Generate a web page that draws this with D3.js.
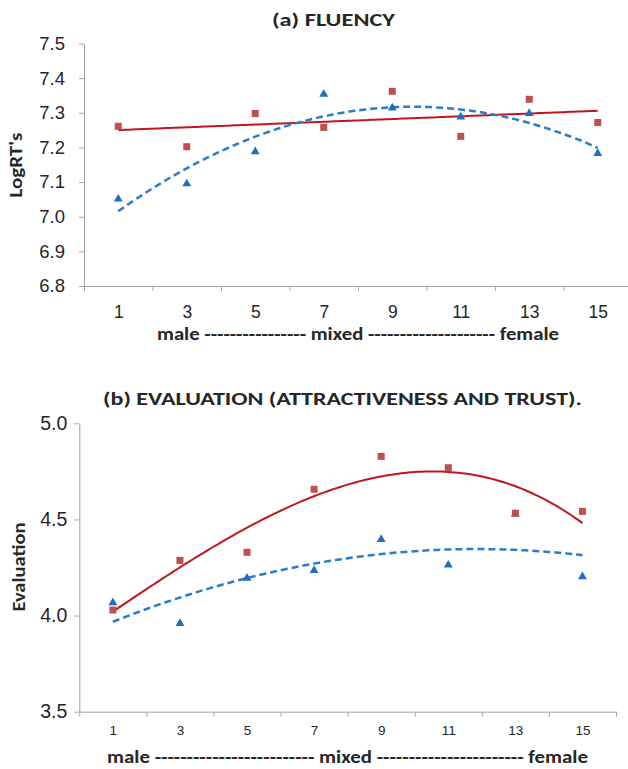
<!DOCTYPE html>
<html>
<head>
<meta charset="utf-8">
<script src="https://cdn.jsdelivr.net/npm/d3@7"></script>
<style>
  body { margin: 0; background: #fff; }
  svg { display: block; font-family: Carlito, Calibri, 'Open Sans', sans-serif; }
  .axis path, .axis line { stroke: #a6a6a6; }
  .axis text { fill: #262626; }
</style>
</head>
<body>
<div id="chart"></div>
<script>
// positions on the male -> female continuum
var xValues = [1, 3, 5, 7, 9, 11, 13, 15];
var boundaryTicks = [0, 2, 4, 6, 8, 10, 12, 14, 16];

// (a) fluency, log reaction times
var fluencyRed = [7.261, 7.202, 7.298, 7.258, 7.362, 7.232, 7.339, 7.272];
var fluencyBlue = [7.051, 7.095, 7.188, 7.354, 7.314, 7.288, 7.298, 7.183];
var fluencyTicks = [6.8, 6.9, 7.0, 7.1, 7.2, 7.3, 7.4, 7.5];

// (b) evaluation (attractiveness and trust)
var evalRed = [4.029, 4.287, 4.329, 4.657, 4.828, 4.769, 4.532, 4.542];
var evalBlue = [4.067, 3.959, 4.195, 4.235, 4.396, 4.263, 4.529, 4.202];
var evalTicks = [3.5, 4.0, 4.5, 5.0];

var red = '#c0504d', redLine = '#c0171f';
var blue = '#1f6fbf', blueLine = '#2a7dcb';

var svg = d3.select('#chart')
  .append('svg')
    .attr('width', 628)
    .attr('height', 769);

// least squares polynomial fit (excel style trendline)
function polyfit (xs, ys, order) {
  var n = order + 1;
  var A = [], b = [];
  for (var i = 0; i < n; i++) {
    A.push([]);
    for (var j = 0; j < n; j++) A[i].push(d3.sum(xs, x => Math.pow(x, i + j)));
    b.push(d3.sum(xs, (x, k) => ys[k] * Math.pow(x, i)));
  }
  // gaussian elimination
  for (var c = 0; c < n; c++) {
    for (var r = c + 1; r < n; r++) {
      var f = A[r][c] / A[c][c];
      for (var k = c; k < n; k++) A[r][k] -= f * A[c][k];
      b[r] -= f * b[c];
    }
  }
  var coef = new Array(n).fill(0);
  for (var r = n - 1; r >= 0; r--) {
    var s = b[r];
    for (var k = r + 1; k < n; k++) s -= A[r][k] * coef[k];
    coef[r] = s / A[r][r];
  }
  return x => coef.reduce((acc, cf, p) => acc + cf * Math.pow(x, p), 0);
}

function drawPanel (opt) {
  var x = d3.scaleLinear().domain([0, 16]).range([opt.left, opt.right]);
  var y = d3.scaleLinear().domain(d3.extent(opt.yTicks)).range([opt.bottom, opt.top]);
  var g = svg.append('g');

  // y axis
  g.append('g')
      .attr('class', 'axis')
      .attr('transform', `translate(${opt.left}, 0)`)
    .call(d3.axisLeft(y).tickValues(opt.yTicks).tickFormat(d3.format('.1f'))
      .tickSize(5).tickSizeOuter(0).tickPadding(opt.yPad))
    .selectAll('text')
      .style('font-size', opt.yFont + 'px');

  // x axis: ticks between categories
  g.append('g')
      .attr('class', 'axis')
      .attr('transform', `translate(0, ${opt.bottom})`)
    .call(d3.axisBottom(x).tickValues(boundaryTicks).tickFormat('')
      .tickSize(5).tickSizeOuter(0));

  // category labels
  var lab = g.append('g')
      .attr('class', 'axis')
      .attr('transform', `translate(0, ${opt.bottom})`)
    .call(d3.axisBottom(x).tickValues(xValues).tickFormat(d3.format('d'))
      .tickSize(0).tickPadding(opt.xPad));
  lab.select('.domain').remove();
  lab.selectAll('text').style('font-size', opt.xFont + 'px');

  // trendlines
  var curve = d3.range(1, 15.01, 0.1);
  var line = d3.line().x(d => x(d[0])).y(d => y(d[1]));
  var fitRed = polyfit(xValues, opt.red, opt.redOrder);
  var fitBlue = polyfit(xValues, opt.blue, opt.blueOrder);

  g.append('path')
      .attr('d', line(curve.map(v => [v, fitRed(v)])))
      .attr('fill', 'none')
      .attr('stroke', redLine)
      .attr('stroke-width', 2);

  g.append('path')
      .attr('d', line(curve.map(v => [v, fitBlue(v)])))
      .attr('fill', 'none')
      .attr('stroke', blueLine)
      .attr('stroke-width', 2.5)
      .attr('stroke-dasharray', '7,4');

  // markers
  g.selectAll('.tri')
    .data(opt.blue)
    .enter().append('path')
      .attr('class', 'tri')
      .attr('d', d3.symbol().type(d3.symbolTriangle).size(34))
      .attr('transform', (d, i) => `translate(${x(xValues[i])}, ${y(d)})`)
      .attr('fill', blue);

  g.selectAll('.sq')
    .data(opt.red)
    .enter().append('rect')
      .attr('class', 'sq')
      .attr('x', (d, i) => x(xValues[i]) - 3.5)
      .attr('y', d => y(d) - 3.5)
      .attr('width', 7)
      .attr('height', 7)
      .attr('fill', red);

  // titles and labels
  g.append('text')
      .attr('x', opt.title.x)
      .attr('y', opt.title.y)
      .attr('textLength', opt.title.len)
      .attr('lengthAdjust', 'spacingAndGlyphs')
      .style('font-size', '18.5px')
      .style('font-weight', 'bold')
      .attr('fill', '#262626')
      .text(opt.title.text);

  g.append('text')
      .attr('x', opt.scale.x)
      .attr('y', opt.scale.y)
      .attr('textLength', opt.scale.len)
      .attr('lengthAdjust', 'spacingAndGlyphs')
      .style('font-size', '17.5px')
      .style('font-weight', 'bold')
      .attr('fill', '#262626')
      .text(opt.scale.text);

  g.append('text')
      .attr('transform', `translate(${opt.ylab.x}, ${opt.ylab.y}) rotate(-90)`)
      .attr('text-anchor', 'middle')
      .attr('textLength', opt.ylab.len)
      .attr('lengthAdjust', 'spacingAndGlyphs')
      .style('font-size', opt.ylab.size + 'px')
      .style('font-weight', 'bold')
      .attr('fill', '#262626')
      .text(opt.ylab.text);
}

drawPanel({
  left: 84, right: 632, top: 43.5, bottom: 286,
  yTicks: fluencyTicks, yFont: 18.5, yPad: 14,
  xFont: 17.5, xPad: 20,
  red: fluencyRed, redOrder: 1,
  blue: fluencyBlue, blueOrder: 2,
  title: { text: '(a) FLUENCY', x: 272, y: 26, len: 123 },
  scale: { text: 'male ---------------- mixed -------------------- female', x: 157, y: 340, len: 402 },
  ylab: { text: "LogRT's", x: 22, y: 165, len: 65, size: 17 }
});

drawPanel({
  left: 79.3, right: 616, top: 423.3, bottom: 711.7,
  yTicks: evalTicks, yFont: 19.5, yPad: 7,
  xFont: 13.5, xPad: 14,
  red: evalRed, redOrder: 3,
  blue: evalBlue, blueOrder: 2,
  title: { text: '(b) EVALUATION (ATTRACTIVENESS AND TRUST).', x: 103, y: 405, len: 479 },
  scale: { text: 'male ------------------------- mixed ----------------------- female', x: 107, y: 763, len: 481 },
  ylab: { text: 'Evaluation', x: 25, y: 567, len: 89, size: 18 }
});
</script>
</body>
</html>
